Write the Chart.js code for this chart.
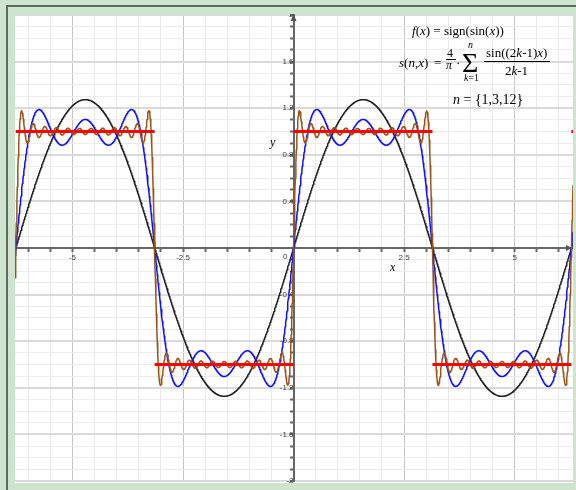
<!DOCTYPE html>
<html>
<head>
<meta charset="utf-8">
<title>Fourier series of sign(sin x)</title>
<script src="https://cdn.jsdelivr.net/npm/chart.js@4.4.1/dist/chart.umd.min.js"></script>
<style>
  html, body { margin: 0; padding: 0; }
  body { width: 576px; height: 490px; background: #cfe4cf; position: relative; overflow: hidden; }
  #paper { position: absolute; left: 15px; top: 14px; width: 558px; height: 469px; background: #fff; }
  #chart { position: absolute; left: 0; top: 0; }
  .edge { position: absolute; background: #cfe4cf; }
  #frame { position: absolute; left: 6px; top: 5px; right: -4px; bottom: -4px; border-left: 2px solid #5e6a5e; border-top: 2px solid #5e6a5e; }
  .tex { position: absolute; font-family: 'Liberation Serif', 'Times New Roman', serif; line-height: 1; white-space: nowrap; color: #000; }
  .bar { position: absolute; height: 1px; background: #000; }
</style>
</head>
<body>
<div id="paper"></div>
<canvas id="chart" width="576" height="490"></canvas>

<!-- green margin around the sheet, then the dark frame -->
<div class="edge" style="left:0;top:0;width:576px;height:14px"></div>
<div class="edge" style="left:0;top:0;width:15px;height:490px"></div>
<div class="edge" style="left:0;top:483px;width:576px;height:7px"></div>
<div class="edge" style="left:573px;top:0;width:3px;height:490px"></div>
<div id="frame"></div>

<!-- axis names -->
<div class="tex" style="left:270px;top:136px;font-size:12px"><i>y</i></div>
<div class="tex" style="left:390px;top:261px;font-size:12px"><i>x</i></div>

<!-- formulas -->
<div class="tex" style="left:412px;top:24px;font-size:13px"><i>f</i>(<i>x</i>) = sign(sin(<i>x</i>))</div>
<div class="tex" style="left:399px;top:56px;font-size:13px"><i>s</i>(<i>n</i>,<i>x</i>)</div>
<div class="tex" style="left:434px;top:56px;font-size:13px">=</div>
<div class="tex" style="left:447px;top:47px;font-size:12px">4</div>
<div class="bar" style="left:446px;top:59px;width:10px"></div>
<div class="tex" style="left:446px;top:59px;font-size:12px"><i>π</i></div>
<div class="tex" style="left:456px;top:56px;font-size:13px">·</div>
<div class="tex" style="left:468px;top:40px;font-size:10px"><i>n</i></div>
<div class="tex" style="left:462px;top:49px;font-size:28px">Σ</div>
<div class="tex" style="left:464px;top:73px;font-size:10px"><i>k</i>=1</div>
<div class="tex" style="left:486px;top:46px;font-size:13px">sin((2<i>k</i>-1)<i>x</i>)</div>
<div class="bar" style="left:484px;top:61px;width:66px"></div>
<div class="tex" style="left:505px;top:64px;font-size:13px">2<i>k</i>-1</div>
<div class="tex" style="left:453px;top:93px;font-size:14px"><i>n</i> = {1,3,12}</div>

<script>
// visible window
const xMin = -6.3;
const xMax = 6.32;
const yMin = -2;
const yMax = 2;

// number of terms in each partial sum s(n, x)
const harmonicCounts = [1, 3, 12];

// f(x) = sign(sin(x)): breakpoints and the level on each piece
const signBreaks = [xMin, -2 * Math.PI, -Math.PI, 0, Math.PI, 2 * Math.PI, xMax];
const signLevels = [-1, 1, -1, 1, -1, 1];

// ticks that carry a label
const xTickLabels = [-5, -2.5, 2.5, 5];
const yTickLabels = [-2, -1.6, -1.2, -0.8, -0.4, 0.4, 0.8, 1.2, 1.6, 2];

const sumColors = ['#1e1e1e', '#1010ff', '#98561a'];
const tickFont = { size: 8, family: '"Liberation Sans", Arial, sans-serif' };

function partialSum(n, x) {
  let s = 0;
  for (let k = 1; k <= n; k++) {
    s += Math.sin((2 * k - 1) * x) / (2 * k - 1);
  }
  return 4 / Math.PI * s;
}

function sampleSum(n) {
  const pts = [];
  const steps = 1200;
  for (let i = 0; i <= steps; i++) {
    const x = xMin + (xMax - xMin) * i / steps;
    pts.push({ x: x, y: partialSum(n, x) });
  }
  return pts;
}

// step function as separate flat pieces (null breaks the line at each jump)
const signPoints = [];
signLevels.forEach((level, i) => {
  signPoints.push({ x: signBreaks[i], y: level }, { x: signBreaks[i + 1], y: level });
  if (i < signLevels.length - 1) signPoints.push({ x: signBreaks[i + 1], y: null });
});

const near = (a, b) => Math.abs(a - b) < 1e-6;
const isMajorX = v => xTickLabels.some(t => near(t, v));
const isMajorY = v => Math.abs(Math.round(v * 10)) % 4 === 0;
const isLabelY = v => yTickLabels.some(t => near(t, v));

// datasets listed top-most first
const datasets = [{
  label: 'f(x)',
  data: signPoints,
  borderColor: '#ff0000',
  borderWidth: 3,
  spanGaps: false
}];
for (let i = harmonicCounts.length - 1; i >= 0; i--) {
  datasets.push({
    label: 's(' + harmonicCounts[i] + ',x)',
    data: sampleSum(harmonicCounts[i]),
    borderColor: sumColors[i],
    borderWidth: 1.5
  });
}
datasets.forEach(d => {
  d.pointRadius = 0;
  d.tension = 0;
  d.fill = false;
  d.borderJoinStyle = 'round';
});

// arrowheads on the axes and the origin label
const axisDecor = {
  id: 'axisDecor',
  afterDraw(chart) {
    const { ctx, chartArea } = chart;
    const ox = chart.scales.x.getPixelForValue(0);
    const oy = chart.scales.y.getPixelForValue(0);
    ctx.save();
    ctx.fillStyle = '#555';
    ctx.beginPath();
    ctx.moveTo(ox, chartArea.top - 1);
    ctx.lineTo(ox - 3, chartArea.top + 6);
    ctx.lineTo(ox + 3, chartArea.top + 6);
    ctx.closePath();
    ctx.fill();
    ctx.beginPath();
    ctx.moveTo(chartArea.right - 1, oy);
    ctx.lineTo(chartArea.right - 7, oy - 3);
    ctx.lineTo(chartArea.right - 7, oy + 3);
    ctx.closePath();
    ctx.fill();
    ctx.font = tickFont.size + 'px ' + tickFont.family;
    ctx.fillStyle = '#3a3a3a';
    ctx.textAlign = 'right';
    ctx.textBaseline = 'middle';
    ctx.fillText('0', ox - 6, oy + 9);
    ctx.restore();
  }
};

new Chart(document.getElementById('chart'), {
  type: 'line',
  data: { datasets: datasets },
  plugins: [axisDecor],
  options: {
    responsive: false,
    animation: false,
    events: [],
    layout: { padding: { left: 15, top: 15, right: 3, bottom: 9 } },
    plugins: {
      legend: { display: false },
      tooltip: { enabled: false }
    },
    scales: {
      x: {
        type: 'linear',
        min: xMin,
        max: xMax,
        position: { y: 0 },
        ticks: {
          stepSize: 0.5,
          includeBounds: false,
          autoSkip: false,
          maxRotation: 0,
          padding: 2,
          color: '#3a3a3a',
          font: tickFont,
          callback: v => isMajorX(v) ? String(v) : ''
        },
        grid: {
          color: ctx => isMajorX(ctx.tick.value) ? '#c4c4c4' : '#e9e9e9',
          lineWidth: 1,
          tickLength: 3,
          tickColor: '#666',
          tickWidth: 2
        },
        border: { color: '#666', width: 2 }
      },
      y: {
        type: 'linear',
        min: yMin,
        max: yMax,
        position: { x: 0 },
        ticks: {
          stepSize: 0.1,
          includeBounds: false,
          autoSkip: false,
          padding: -1,
          color: '#3a3a3a',
          font: tickFont,
          callback: v => isLabelY(v) ? String(v) : ''
        },
        grid: {
          color: ctx => isMajorY(ctx.tick.value) ? '#dadada' : '#ececec',
          lineWidth: ctx => isMajorY(ctx.tick.value) ? 2 : 1,
          tickLength: 3,
          tickColor: '#666',
          tickWidth: 2
        },
        border: { color: '#666', width: 2 }
      }
    }
  }
});
</script>
</body>
</html>
